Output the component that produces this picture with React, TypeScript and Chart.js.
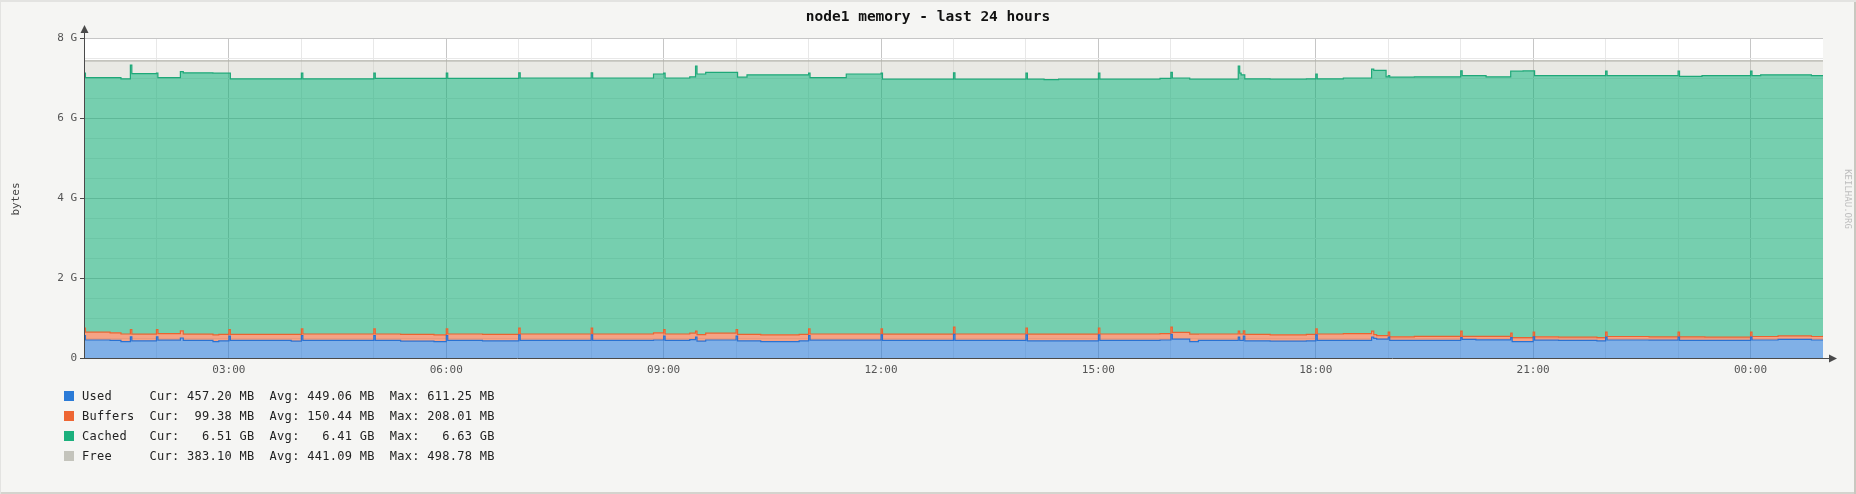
import { useEffect, useRef } from 'react';
import { Chart, registerables } from 'chart.js';
import type { ChartConfiguration, Plugin } from 'chart.js';

Chart.register(...registerables);

const WIDTH = 1856;
const HEIGHT = 494;
const MONO = '"DejaVu Sans Mono", "Liberation Mono", monospace';

const title = 'node1 memory - last 24 hours';
const yAxisTitle = 'bytes';
const watermark = 'KEILHAU.ORG';

// hours since midnight of the first day (1 = 01:00, 25 = 01:00 next day)
const times = [
  1.0, 1.02, 1.36, 1.51, 1.64, 1.66,
  2.0, 2.02, 2.33, 2.37, 2.78, 2.86,
  3.0, 3.02, 3.86,
  4.0, 4.02,
  5.0, 5.02, 5.37, 5.83,
  6.0, 6.02, 6.5,
  7.0, 7.02,
  8.0, 8.02, 8.86,
  9.0, 9.02, 9.36, 9.44, 9.46, 9.58,
  10.0, 10.02, 10.15, 10.34, 10.87,
  11.0, 11.02, 11.52,
  12.0, 12.02,
  13.0, 13.02,
  14.0, 14.02, 14.25, 14.45,
  15.0, 15.02, 15.85,
  16.0, 16.02, 16.26, 16.38, 16.93, 16.95, 16.97,
  17.0, 17.02, 17.37, 17.87,
  18.0, 18.02, 18.38, 18.77, 18.8, 18.84, 18.97,
  19.0, 19.02, 19.36,
  20.0, 20.02, 20.21, 20.35, 20.69, 20.71, 20.86,
  21.0, 21.02, 21.35, 21.88,
  22.0, 22.02, 22.6,
  23.0, 23.02, 23.33, 23.37,
  24.0, 24.02, 24.14, 24.38, 24.84,
  25.0,
];

// GB
const used = [
  0.56, 0.45, 0.44, 0.41, 0.53, 0.43,
  0.53, 0.445, 0.5, 0.44, 0.41, 0.43,
  0.545, 0.44, 0.42,
  0.56, 0.44,
  0.56, 0.44, 0.42, 0.41,
  0.56, 0.44, 0.43,
  0.58, 0.44,
  0.58, 0.44, 0.45,
  0.545, 0.44, 0.46, 0.52, 0.42, 0.45,
  0.545, 0.43, 0.43, 0.41, 0.43,
  0.56, 0.445, 0.445,
  0.58, 0.44,
  0.59, 0.44,
  0.58, 0.43, 0.43, 0.43,
  0.58, 0.44, 0.45,
  0.59, 0.47, 0.41, 0.44, 0.52, 0.44, 0.44,
  0.545, 0.43, 0.42, 0.43,
  0.58, 0.44, 0.44, 0.52, 0.49, 0.47, 0.47,
  0.52, 0.44, 0.44,
  0.51, 0.465, 0.455, 0.455, 0.51, 0.41, 0.41,
  0.53, 0.445, 0.44, 0.43,
  0.52, 0.45, 0.445,
  0.52, 0.44, 0.44, 0.44,
  0.52, 0.45, 0.45, 0.465, 0.45,
  0.457,
];

const buffers = [
  0.185, 0.195, 0.19, 0.19, 0.18, 0.165,
  0.18, 0.165, 0.18, 0.155, 0.17, 0.16,
  0.165, 0.15, 0.17,
  0.17, 0.16,
  0.17, 0.16, 0.17, 0.17,
  0.17, 0.16, 0.16,
  0.165, 0.16,
  0.165, 0.16, 0.18,
  0.165, 0.16, 0.16, 0.15, 0.165, 0.17,
  0.165, 0.16, 0.16, 0.17, 0.16,
  0.17, 0.155, 0.155,
  0.15, 0.155,
  0.18, 0.16,
  0.17, 0.165, 0.165, 0.165,
  0.17, 0.16, 0.16,
  0.18, 0.17, 0.185, 0.16, 0.15, 0.16, 0.16,
  0.135, 0.16, 0.16, 0.16,
  0.15, 0.16, 0.17, 0.15, 0.095, 0.09, 0.09,
  0.125, 0.09, 0.1,
  0.16, 0.075, 0.085, 0.085, 0.11, 0.1, 0.1,
  0.115, 0.085, 0.08, 0.08,
  0.125, 0.087, 0.083,
  0.125, 0.088, 0.088, 0.08,
  0.125, 0.087, 0.087, 0.088, 0.087,
  0.099,
];

const cached = [
  6.375, 6.365, 6.38, 6.38, 6.61, 6.515,
  6.41, 6.4, 6.48, 6.535, 6.54, 6.53,
  6.41, 6.39, 6.39,
  6.39, 6.38,
  6.39, 6.39, 6.4, 6.41,
  6.39, 6.39, 6.4,
  6.385, 6.4,
  6.385, 6.4, 6.47,
  6.41, 6.4, 6.41, 6.63, 6.515, 6.52,
  6.43, 6.43, 6.49, 6.5, 6.49,
  6.39, 6.41, 6.5,
  6.39, 6.375,
  6.36, 6.37,
  6.37, 6.375, 6.365, 6.375,
  6.37, 6.37, 6.38,
  6.37, 6.36, 6.375, 6.37, 6.63, 6.52, 6.48,
  6.4, 6.39, 6.39, 6.39,
  6.37, 6.38, 6.39, 6.55, 6.605, 6.63, 6.47,
  6.415, 6.49, 6.49,
  6.51, 6.52, 6.52, 6.49, 6.55, 6.66, 6.67,
  6.535, 6.53, 6.54, 6.55,
  6.525, 6.523, 6.532,
  6.525, 6.512, 6.532, 6.54,
  6.525, 6.523, 6.543, 6.527, 6.523,
  6.494,
];

const free = [
  0.31, 0.42, 0.42, 0.45, 0.11, 0.32,
  0.31, 0.42, 0.27, 0.3, 0.31, 0.31,
  0.31, 0.45, 0.45,
  0.31, 0.45,
  0.31, 0.44, 0.44, 0.44,
  0.31, 0.44, 0.44,
  0.3, 0.43,
  0.3, 0.43, 0.33,
  0.31, 0.43, 0.4, 0.13, 0.33, 0.29,
  0.29, 0.41, 0.35, 0.35, 0.35,
  0.31, 0.42, 0.33,
  0.31, 0.46,
  0.3, 0.46,
  0.31, 0.46, 0.47, 0.46,
  0.31, 0.46, 0.44,
  0.29, 0.43, 0.46, 0.46, 0.13, 0.31, 0.35,
  0.35, 0.45, 0.46, 0.45,
  0.33, 0.45, 0.43, 0.21, 0.24, 0.24, 0.4,
  0.37, 0.41, 0.4,
  0.25, 0.37, 0.37, 0.4, 0.26, 0.26, 0.25,
  0.25, 0.37, 0.37, 0.37,
  0.26, 0.37, 0.37,
  0.26, 0.39, 0.37, 0.37,
  0.26, 0.37, 0.35, 0.35, 0.37,
  0.38,
];

const seriesNames = ['Used', 'Buffers', 'Cached', 'Free'];
const seriesColors = ['#2b7bd7', '#ee6633', '#1bb07c', '#c4c4bc'];
const lineColors = ['#2a72d2', '#ea6430', '#1ea878', '#b2b2aa'];
const fillColors = [
  'rgba(43,123,215,0.6)',
  'rgba(238,102,51,0.6)',
  'rgba(26,175,122,0.6)',
  'rgba(196,196,184,0.38)',
];
const curStats = ['457.20 MB', ' 99.38 MB', '  6.51 GB', '383.10 MB'];
const avgStats = ['449.06 MB', '150.44 MB', '  6.41 GB', '441.09 MB'];
const maxStats = ['611.25 MB', '208.01 MB', '  6.63 GB', '498.78 MB'];

const decorations: Plugin<'line'> = {
  id: 'decorations',
  beforeDraw(chart) {
    const { ctx, chartArea: a } = chart;
    ctx.save();
    ctx.fillStyle = '#ffffff';
    ctx.fillRect(a.left, a.top, a.right - a.left, a.bottom - a.top);
    ctx.restore();
  },
  afterDraw(chart) {
    const { ctx, chartArea: a } = chart;
    ctx.save();
    ctx.strokeStyle = '#4a4a4a';
    ctx.fillStyle = '#4a4a4a';
    ctx.lineWidth = 1;
    const ax = a.left + 0.5;
    const ay = a.bottom + 0.5;
    // y axis with arrow
    ctx.beginPath();
    ctx.moveTo(ax, ay);
    ctx.lineTo(ax, a.top - 6);
    ctx.stroke();
    ctx.beginPath();
    ctx.moveTo(ax, a.top - 13);
    ctx.lineTo(ax - 4, a.top - 5);
    ctx.lineTo(ax + 4, a.top - 5);
    ctx.closePath();
    ctx.fill();
    // x axis with arrow
    ctx.beginPath();
    ctx.moveTo(a.left - 4, ay);
    ctx.lineTo(a.right + 7, ay);
    ctx.stroke();
    ctx.beginPath();
    ctx.moveTo(a.right + 14, ay);
    ctx.lineTo(a.right + 6, ay - 4);
    ctx.lineTo(a.right + 6, ay + 4);
    ctx.closePath();
    ctx.fill();

    // title
    ctx.fillStyle = '#111111';
    ctx.font = `bold 14.5px ${MONO}`;
    ctx.textAlign = 'center';
    ctx.textBaseline = 'middle';
    ctx.fillText(title, WIDTH / 2, 17);

    // y axis title
    ctx.save();
    ctx.translate(16, 199);
    ctx.rotate(-Math.PI / 2);
    ctx.font = `11px ${MONO}`;
    ctx.fillStyle = '#444444';
    ctx.fillText(yAxisTitle, 0, 0);
    ctx.restore();

    // watermark
    ctx.save();
    ctx.translate(1847, 199);
    ctx.rotate(Math.PI / 2);
    ctx.font = `9px ${MONO}`;
    ctx.fillStyle = '#bdbdbd';
    ctx.fillText(watermark, 0, 0);
    ctx.restore();

    ctx.restore();
  },
};

function MemoryChart() {
  const canvasRef = useRef<HTMLCanvasElement>(null);

  useEffect(() => {
    if (!canvasRef.current) return;
    const series = [used, buffers, cached, free];

    const config: ChartConfiguration<'line'> = {
      type: 'line',
      data: {
        datasets: series.map((values, i) => ({
          label: seriesNames[i],
          data: times.map((t, j) => ({ x: t, y: values[j] })),
          borderColor: lineColors[i],
          backgroundColor: fillColors[i],
          borderWidth: 1.2,
          pointRadius: 0,
          stepped: true,
          fill: i === 0 ? 'origin' : '-1',
        })),
      },
      options: {
        animation: false,
        responsive: false,
        maintainAspectRatio: false,
        events: [],
        layout: { padding: { left: 0, top: 38, right: 33, bottom: 0 } },
        plugins: {
          legend: { display: false },
          tooltip: { enabled: false },
          title: { display: false },
        },
        scales: {
          x: {
            type: 'linear',
            min: 1,
            max: 25,
            afterFit: (scale) => {
              scale.height = 136;
            },
            border: { display: false },
            grid: {
              drawTicks: false,
              color: (c) => {
                const v = c.tick?.value;
                if (v === 1 || v === 25) return 'transparent';
                return v % 3 === 0 ? '#c6c6c6' : '#e8e8e8';
              },
            },
            ticks: {
              stepSize: 1,
              autoSkip: false,
              maxRotation: 0,
              padding: 6,
              color: '#555555',
              font: { family: MONO, size: 11 },
              callback: (v) => {
                const h = Number(v);
                if (h % 3 !== 0) return '';
                return `${String(h % 24).padStart(2, '0')}:00`;
              },
            },
          },
          y: {
            stacked: true,
            min: 0,
            max: 8,
            afterFit: (scale) => {
              scale.width = 84;
            },
            border: { display: false },
            grid: {
              drawTicks: true,
              tickLength: 4,
              tickWidth: 1,
              color: (c) => {
                const v = c.tick?.value;
                if (v === 0) return 'transparent';
                return v % 2 === 0 ? '#c6c6c6' : '#e8e8e8';
              },
              tickColor: (c) => (c.tick?.value % 2 === 0 ? '#4a4a4a' : 'transparent'),
            },
            ticks: {
              stepSize: 0.5,
              autoSkip: false,
              padding: 3,
              color: '#555555',
              font: { family: MONO, size: 11 },
              callback: (v) => {
                const n = Number(v);
                if (n % 2 !== 0) return '';
                return n === 0 ? '0' : `${n} G`;
              },
            },
          },
        },
      },
      plugins: [decorations],
    };

    const chart = new Chart(canvasRef.current, config);
    return () => chart.destroy();
  }, []);

  return (
    <canvas
      ref={canvasRef}
      width={WIDTH}
      height={HEIGHT}
      style={{ position: 'absolute', left: 0, top: 0, width: WIDTH, height: HEIGHT }}
    />
  );
}

export default function App() {
  return (
    <div
      style={{
        position: 'fixed',
        left: 0,
        top: 0,
        width: WIDTH,
        height: HEIGHT,
        background: '#f5f5f3',
        boxShadow:
          'inset 0 2px 0 #e3e3e1, inset 1px 0 0 #e3e3e1, inset -2px 0 0 #c8c8c0, inset 0 -2px 0 #d4d4ce',
        overflow: 'hidden',
      }}
    >
      <MemoryChart />
      <div style={{ position: 'absolute', left: 64, top: 386 }}>
        {seriesNames.map((name, i) => (
          <div
            key={name}
            style={{ display: 'flex', alignItems: 'center', height: 20 }}
          >
            <span
              style={{
                display: 'inline-block',
                width: 10,
                height: 10,
                background: seriesColors[i],
                marginRight: 8,
              }}
            />
            <span
              style={{
                fontFamily: MONO,
                fontSize: 12,
                letterSpacing: '0.28px',
                color: '#222222',
                whiteSpace: 'pre',
                lineHeight: '20px',
              }}
            >
              {`${name.padEnd(9)}Cur: ${curStats[i]}  Avg: ${avgStats[i]}  Max: ${maxStats[i]}`}
            </span>
          </div>
        ))}
      </div>
    </div>
  );
}
